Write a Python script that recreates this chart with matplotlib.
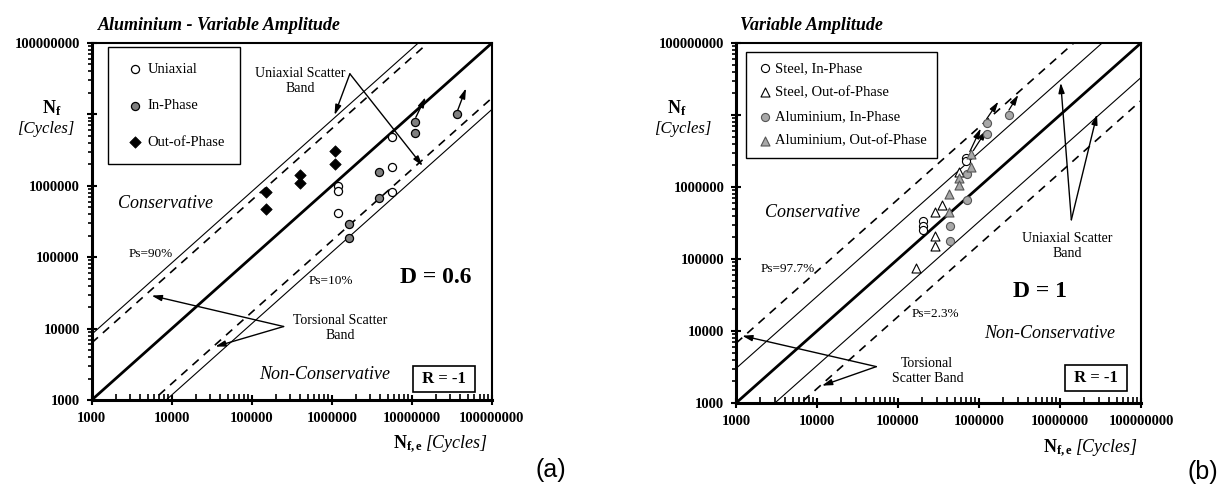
import numpy as np
import matplotlib
matplotlib.use('Agg')
import matplotlib.pyplot as plt
from matplotlib.ticker import LogLocator, FuncFormatter, NullFormatter

plt.rcParams['font.family'] = ['Liberation Serif', 'DejaVu Serif']
plt.rcParams['mathtext.fontset'] = 'custom'
plt.rcParams['mathtext.rm'] = 'Liberation Serif'
plt.rcParams['mathtext.bf'] = 'Liberation Serif:bold'
plt.rcParams['mathtext.it'] = 'Liberation Serif:italic'

# ---- panel (a): aluminium, variable amplitude, D = 0.6 ----
uni_x = [1.2e6, 1.2e6, 1.2e6, 5.6e6, 5.6e6, 5.6e6]
uni_y = [9.9e5, 8.4e5, 4.2e5, 4.9e6, 1.85e6, 8.1e5]
inph_x = [1.1e7, 1.1e7, 3.7e7, 3.9e6, 3.9e6, 1.66e6, 1.66e6]
inph_y = [7.9e6, 5.5e6, 1.0e7, 1.56e6, 6.8e5, 2.9e5, 1.84e5]
oop_x = [1.5e5, 1.5e5, 4.0e5, 4.0e5, 1.1e6, 1.1e6]
oop_y = [8.2e5, 4.7e5, 1.4e6, 1.1e6, 3.1e6, 2.0e6]
# run-outs (start -> end)
runout_a = [((1.12e7, 9.1e6), (1.48e7, 1.74e7)),
            ((3.72e7, 1.13e7), (4.74e7, 2.32e7))]
# scatter band offsets in decades
band_a_solid = [0.92, -0.93]
band_a_dash = [0.80, -0.77]

# ---- panel (b): variable amplitude, D = 1 ----
st_ip_x = [2.06e5, 2.06e5, 2.06e5, 6.9e5, 6.9e5]
st_ip_y = [3.37e5, 2.9e5, 2.5e5, 2.55e6, 2.3e6]
st_oop_x = [5.6e5, 3.47e5, 2.9e5, 2.9e5, 2.9e5, 1.67e5]
st_oop_y = [1.63e6, 5.6e5, 4.46e5, 2.08e5, 1.53e5, 7.4e4]
al_ip_x = [2.35e6, 1.24e6, 1.24e6, 7.2e5, 7.2e5, 4.4e5, 4.4e5]
al_ip_y = [1.0e7, 7.7e6, 5.4e6, 1.5e6, 6.7e5, 2.87e5, 1.8e5]
al_oop_x = [8.0e5, 8.0e5, 5.7e5, 5.7e5, 4.27e5, 4.27e5]
al_oop_y = [2.9e6, 1.9e6, 1.32e6, 1.07e6, 7.9e5, 4.5e5]
runout_b = [((1.24e6, 8.8e6), (1.73e6, 1.53e7)),
            ((2.34e6, 1.17e7), (3.05e6, 1.9e7)),
            ((7.7e5, 3.1e6), (1.05e6, 6.5e6)),
            ((8.5e5, 3.2e6), (1.24e6, 6.2e6))]
band_b_solid = [0.48, -0.48]
band_b_dash = [0.83, -0.80]

LIM = [1e3, 1e8]
GREY_A = '#7f7f7f'
GREY_B = '#a8a8a8'


def style_axes(ax):
    ax.set_xscale('log')
    ax.set_yscale('log')
    ax.set_xlim(LIM)
    ax.set_ylim(LIM)
    xfmt = FuncFormatter(lambda v, p: '%d' % round(v))
    # the 10^7 label on y is left out, the N_f label sits there
    yfmt = FuncFormatter(lambda v, p: '' if round(v) == 10000000 else '%d' % round(v))
    for axis, fmt in ((ax.xaxis, xfmt), (ax.yaxis, yfmt)):
        axis.set_major_locator(LogLocator(base=10, numticks=10))
        axis.set_minor_locator(LogLocator(base=10, subs=np.arange(2, 10), numticks=10))
        axis.set_major_formatter(fmt)
        axis.set_minor_formatter(NullFormatter())
    ax.tick_params(axis='both', which='major', direction='inout', length=7,
                   width=1.5, labelsize=10.5, pad=5)
    ax.tick_params(axis='x', which='minor', direction='in', length=4, width=1.2)
    ax.tick_params(axis='y', which='minor', direction='out', length=3, width=1.2)
    for lab in ax.get_xticklabels() + ax.get_yticklabels():
        lab.set_fontweight('bold')
    ax.spines['left'].set_linewidth(2.2)
    ax.spines['bottom'].set_linewidth(2.2)
    ax.spines['top'].set_linewidth(1.5)
    ax.spines['right'].set_linewidth(1.5)


def draw_bands(ax, solid, dash):
    x = np.array(LIM)
    ax.plot(x, x, color='k', lw=2.0, zorder=2)
    for off in solid:
        ax.plot(x, x * 10 ** off, color='k', lw=0.8, zorder=2)
    for off in dash:
        ax.plot(x, x * 10 ** off, color='k', lw=1.2, ls=(0, (5, 4)), zorder=2)


def arrow(ax, start, end, lw=1.0):
    ax.annotate('', xy=end, xytext=start,
                arrowprops=dict(arrowstyle='-|>,head_length=0.6,head_width=0.18',
                                color='k', lw=lw, shrinkA=0, shrinkB=0))


fig = plt.figure(figsize=(12.21, 4.88), dpi=100)
ax1 = fig.add_axes([0.0751, 0.1803, 0.3278, 0.7316])
ax2 = fig.add_axes([0.6028, 0.1742, 0.3317, 0.7377])

# ---------- panel (a) ----------
style_axes(ax1)
draw_bands(ax1, band_a_solid, band_a_dash)
ax1.scatter(uni_x, uni_y, s=34, marker='o', facecolor='white', edgecolor='k', lw=0.9,
            zorder=4, label='Uniaxial')
ax1.scatter(inph_x, inph_y, s=34, marker='o', facecolor=GREY_A, edgecolor='k', lw=0.9,
            zorder=4, label='In-Phase')
ax1.scatter(oop_x, oop_y, s=34, marker='D', facecolor='k', edgecolor='k', lw=0.5,
            zorder=4, label='Out-of-Phase')
for s, e in runout_a:
    arrow(ax1, s, e)

leg = ax1.legend(loc='upper left', bbox_to_anchor=(0.04, 0.988), frameon=True,
                 fancybox=False, edgecolor='k', framealpha=1, fontsize=10.5,
                 labelspacing=1.6, borderpad=1.05, handletextpad=0.1,
                 handlelength=1.6, borderaxespad=0)
leg.get_frame().set_linewidth(1.0)

ax1.text(4e5, 2.95e7, 'Uniaxial Scatter\nBand', ha='center', va='center', fontsize=10)
arrow(ax1, (1.68e6, 3.7e7), (1.08e6, 9.8e6))
arrow(ax1, (1.68e6, 3.7e7), (1.36e7, 1.9e6))
ax1.text(1.26e6, 1.02e4, 'Torsional Scatter\nBand', ha='center', va='center', fontsize=10)
arrow(ax1, (2.5e5, 1.07e4), (5.6e3, 2.9e4))
arrow(ax1, (2.5e5, 1.07e4), (3.5e4, 5.6e3))
ax1.text(5.5e3, 1.1e5, 'Ps=90%', ha='center', va='center', fontsize=9.5)
ax1.text(9.8e5, 4.6e4, 'Ps=10%', ha='center', va='center', fontsize=9.5)
ax1.text(2e7, 5.2e4, 'D = 0.6', ha='center', va='center', fontsize=17, fontweight='bold')
ax1.text(8.3e3, 5.6e5, 'Conservative', ha='center', va='center', fontsize=13, style='italic')
ax1.text(8.1e5, 2.3e3, 'Non-Conservative', ha='center', va='center', fontsize=13,
         style='italic')
ax1.text(2.54e7, 1.95e3, ' R = -1 ', ha='center', va='center', fontsize=12,
         fontweight='bold',
         bbox=dict(boxstyle='square,pad=0.3', fc='white', ec='k', lw=1.2))
ax1.text(0.015, 1.025, 'Aluminium - Variable Amplitude', transform=ax1.transAxes,
         ha='left', va='bottom', fontsize=13, fontweight='bold', style='italic')

# ---------- panel (b) ----------
style_axes(ax2)
draw_bands(ax2, band_b_solid, band_b_dash)
ax2.scatter(st_ip_x, st_ip_y, s=34, marker='o', facecolor='white', edgecolor='k', lw=0.8,
            zorder=4, label='Steel, In-Phase')
ax2.scatter(st_oop_x, st_oop_y, s=42, marker='^', facecolor='white', edgecolor='k', lw=0.8,
            zorder=4, label='Steel, Out-of-Phase')
ax2.scatter(al_ip_x, al_ip_y, s=34, marker='o', facecolor=GREY_B, edgecolor='#555555',
            lw=0.8, zorder=4, label='Aluminium, In-Phase')
ax2.scatter(al_oop_x, al_oop_y, s=42, marker='^', facecolor=GREY_B, edgecolor='#555555',
            lw=0.8, zorder=4, label='Aluminium, Out-of-Phase')
for s, e in runout_b:
    arrow(ax2, s, e, lw=0.9)

leg = ax2.legend(loc='upper left', bbox_to_anchor=(0.024, 0.976), frameon=True,
                 fancybox=False, edgecolor='k', framealpha=1, fontsize=10.5,
                 labelspacing=0.75, borderpad=0.7, handletextpad=0.1,
                 handlelength=1.2, borderaxespad=0)
leg.get_frame().set_linewidth(1.0)

ax2.text(1.23e7, 1.5e5, 'Uniaxial Scatter\nBand', ha='center', va='center', fontsize=10)
arrow(ax2, (1.38e7, 3.5e5), (1.02e7, 2.8e7))
arrow(ax2, (1.38e7, 3.5e5), (2.86e7, 1.02e7))
ax2.text(2.3e5, 2.75e3, 'Torsional\nScatter Band', ha='center', va='center', fontsize=10)
arrow(ax2, (5.4e4, 3.2e3), (1.19e3, 8.6e3))
arrow(ax2, (5.4e4, 3.2e3), (1.15e4, 1.74e3))
ax2.text(4.4e3, 7.2e4, 'Ps=97.7%', ha='center', va='center', fontsize=9.5)
ax2.text(2.9e5, 1.74e4, 'Ps=2.3%', ha='center', va='center', fontsize=9.5)
ax2.text(5.6e6, 3.5e4, 'D = 1', ha='center', va='center', fontsize=17, fontweight='bold')
ax2.text(8.7e3, 4.4e5, 'Conservative', ha='center', va='center', fontsize=13, style='italic')
ax2.text(7.4e6, 9.1e3, 'Non-Conservative', ha='center', va='center', fontsize=13,
         style='italic')
ax2.text(2.77e7, 2.2e3, ' R = -1 ', ha='center', va='center', fontsize=12,
         fontweight='bold',
         bbox=dict(boxstyle='square,pad=0.3', fc='white', ec='k', lw=1.2))
ax2.text(0.01, 1.025, 'Variable Amplitude', transform=ax2.transAxes,
         ha='left', va='bottom', fontsize=13, fontweight='bold', style='italic')

# axis labels placed like the original (Excel style)
W, H = 1221.0, 488.0
for yx, cx, nx, ny in [(52, 46, 423, 444), (677, 683, 1073, 448)]:
    fig.text(yx / W, 1 - 108 / H, r'$\mathbf{N_f}$', ha='center', va='center', fontsize=13)
    fig.text(cx / W, 1 - 129 / H, '[Cycles]', ha='center', va='center', fontsize=12,
             style='italic')
    fig.text(nx / W, 1 - ny / H, r'$\mathbf{N_{f,e}}$', ha='right', va='center',
             fontsize=13)
    fig.text((nx + 3) / W, 1 - (ny - 1) / H, '[Cycles]', ha='left', va='center',
             fontsize=13, style='italic')

fig.text(551 / W, 1 - 470 / H, '(a)', ha='center', va='center', fontsize=18,
         family='Liberation Sans')
fig.text(1203 / W, 1 - 472 / H, '(b)', ha='center', va='center', fontsize=18,
         family='Liberation Sans')

fig.savefig('out.png', dpi=100)
